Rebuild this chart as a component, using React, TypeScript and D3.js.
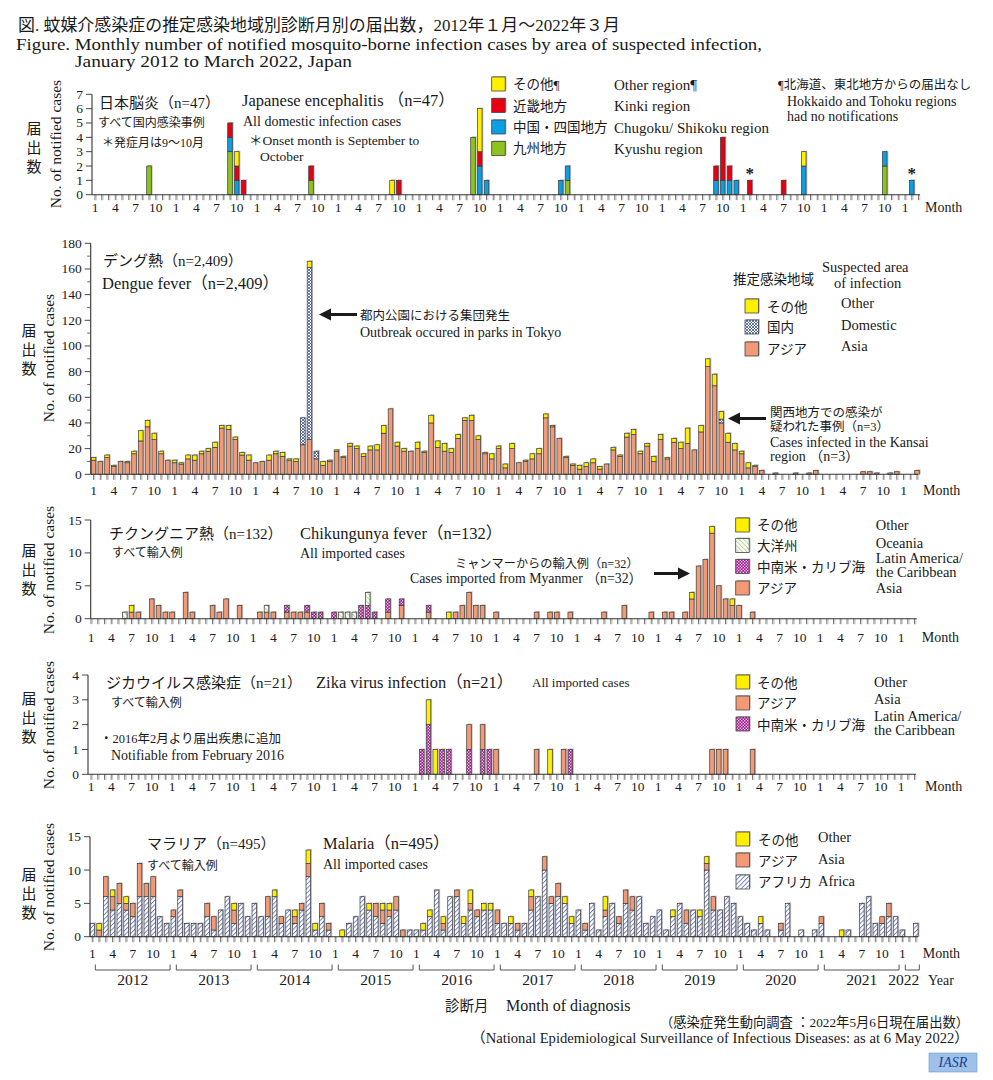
import React from "react";
import * as d3 from "d3";

const N = 123;
const STEP = 6.75;
const YEARS = [2012, 2013, 2014, 2015, 2016, 2017, 2018, 2019, 2020, 2021, 2022];
const MONTH_LABELS = [1, 4, 7, 10];

// ---------- Japanese encephalitis (by region) ----------
const jeKyushu = [
  [0,0,0,0,0,0,0,0,2,0,0,0],
  [0,0,0,0,0,0,0,0,3,0,0,0],
  [0,0,0,0,0,0,0,0,1,0,0,0],
  [0,0,0,0,0,0,0,0,0,0,0,0],
  [0,0,0,0,0,0,0,0,4,0,0,0],
  [0,0,0,0,0,0,0,0,0,0,1,0],
  [0,0,0,0,0,0,0,0,0,0,0,0],
  [0,0,0,0,0,0,0,0,0,0,0,0],
  [0,0,0,0,0,0,0,0,0,0,0,0],
  [0,0,0,0,0,0,0,0,0,2,0,0],
  [0,0,0],
].flat();
const jeChugoku = [
  [0,0,0,0,0,0,0,0,0,0,0,0],
  [0,0,0,0,0,0,0,0,1,1,0,0],
  [0,0,0,0,0,0,0,0,0,0,0,0],
  [0,0,0,0,0,0,0,0,0,0,0,0],
  [0,0,0,0,0,0,0,0,0,2,1,0],
  [0,0,0,0,0,0,0,0,0,1,1,0],
  [0,0,0,0,0,0,0,0,0,0,0,0],
  [0,0,0,0,0,0,0,0,1,1,1,1],
  [0,0,0,0,0,0,0,0,0,2,0,0],
  [0,0,0,0,0,0,0,0,0,1,0,0],
  [0,1,0],
].flat();
const jeKinki = [
  [0,0,0,0,0,0,0,0,0,0,0,0],
  [0,0,0,0,0,0,0,0,1,1,1,0],
  [0,0,0,0,0,0,0,0,1,0,0,0],
  [0,0,0,0,0,0,0,0,0,1,0,0],
  [0,0,0,0,0,0,0,0,0,1,0,0],
  [0,0,0,0,0,0,0,0,0,0,0,0],
  [0,0,0,0,0,0,0,0,0,0,0,0],
  [0,0,0,0,0,0,0,0,1,3,1,0],
  [0,1,0,0,0,0,1,0,0,0,0,0],
  [0,0,0,0,0,0,0,0,0,0,0,0],
  [0,0,0],
].flat();
const jeOther = [
  [0,0,0,0,0,0,0,0,0,0,0,0],
  [0,0,0,0,0,0,0,0,0,1,0,0],
  [0,0,0,0,0,0,0,0,0,0,0,0],
  [0,0,0,0,0,0,0,0,1,0,0,0],
  [0,0,0,0,0,0,0,0,0,3,0,0],
  [0,0,0,0,0,0,0,0,0,0,0,0],
  [0,0,0,0,0,0,0,0,0,0,0,0],
  [0,0,0,0,0,0,0,0,0,0,0,0],
  [0,0,0,0,0,0,0,0,0,1,0,0],
  [0,0,0,0,0,0,0,0,0,0,0,0],
  [0,0,0],
].flat();
const jeAsteriskMonths = [97, 121];

// ---------- Dengue ----------
const dengueAsia = [
  [11,10,13,6,10,9,16,26,37,27,16,11],
  [9,8,12,11,16,18,21,36,35,27,15,11],
  [9,10,11,16,14,11,10,23,27,12,7,10],
  [18,13,22,20,14,19,19,32,51,22,18,18],
  [20,17,40,21,18,17,28,42,42,27,16,12],
  [20,5,20,9,10,12,16,44,37,28,13,7],
  [4,6,9,4,8,19,14,29,31,16,22,10],
  [27,12,25,20,24,19,33,84,69,40,25,19],
  [16,5,6,3,0,1,0,0,1,0,1,3],
  [0,0,0,0,0,0,2,2,1,0,1,2],
  [0,0,3],
].flat();
const dengueDomestic = [
  [0,0,0,0,0,0,0,0,0,0,0,0],
  [0,0,0,0,0,0,0,0,0,0,0,0],
  [0,0,0,0,0,0,0,21,134,6,0,0],
  [0,0,0,0,0,0,0,0,0,0,0,0],
  [0,0,0,0,0,0,0,0,0,0,0,0],
  [0,0,0,0,0,0,0,0,0,0,0,0],
  [0,0,0,0,0,0,0,0,0,0,0,0],
  [0,0,0,0,0,0,0,0,0,3,0,0],
  [0,0,0,0,0,0,0,0,0,0,0,0],
  [0,0,0,0,0,0,0,0,0,0,0,0],
  [0,0,0],
].flat();
const dengueOther = [
  [2,0,2,1,0,1,2,8,5,5,2,0],
  [2,1,3,4,2,2,4,2,3,2,2,4],
  [0,0,4,2,3,1,2,0,5,0,3,1],
  [1,1,2,2,2,3,4,6,0,3,2,0],
  [5,1,6,5,6,3,3,2,4,3,1,4],
  [2,3,4,0,1,4,4,3,1,0,1,1],
  [3,3,3,2,0,2,1,3,4,2,2,4],
  [4,1,3,5,12,0,5,6,9,6,7,5],
  [2,4,1,0,0,0,0,0,0,0,0,0],
  [0,0,0,0,0,0,0,0,0,0,0,0],
  [0,0,0],
].flat();

// ---------- Chikungunya ----------
const chikAsia = [
  [0,0,0,0,0,0,1,1,0,3,2,1],
  [1,0,4,1,0,0,2,1,3,0,2,0],
  [0,1,1,1,0,1,1,1,1,0,0,0],
  [0,0,0,0,0,0,0,0,1,0,2,0],
  [0,0,1,0,0,0,1,2,4,2,2,0],
  [1,0,0,0,0,0,1,0,1,1,0,1],
  [0,0,0,0,1,0,0,2,0,0,0,1],
  [0,1,1,0,1,3,8,9,13,5,3,2],
  [2,0,1,0,0,0,0,0,0,0,0,0],
  [0,0,0,0,0,0,0,0,0,0,0,0],
  [0,0,0],
].flat();
const chikLatAm = [
  [0,0,0,0,0,0,0,0,0,0,0,0],
  [0,0,0,0,0,0,0,0,0,0,0,0],
  [0,0,0,0,0,1,0,0,1,1,1,0],
  [1,0,0,0,2,2,1,0,2,0,1,0],
  [0,0,1,0,0,0,0,0,0,0,0,0],
  [0,0,0,0,0,0,0,0,0,0,0,0],
  [0,0,0,0,0,0,0,0,0,0,0,0],
  [0,0,0,0,0,0,0,0,0,0,0,0],
  [0,0,0,0,0,0,0,0,0,0,0,0],
  [0,0,0,0,0,0,0,0,0,0,0,0],
  [0,0,0],
].flat();
const chikOceania = [
  [0,0,0,0,0,1,0,0,0,0,0,0],
  [0,0,0,0,0,0,0,0,0,0,0,0],
  [0,0,1,0,0,0,0,0,0,0,0,0],
  [0,1,1,1,0,2,0,0,0,0,0,0],
  [0,0,0,0,0,0,0,0,0,0,0,0],
  [0,0,0,0,0,0,0,0,0,0,0,0],
  [0,0,0,0,0,0,0,0,0,0,0,0],
  [0,0,0,0,0,0,0,0,0,0,0,0],
  [0,0,0,0,0,0,0,0,0,0,0,0],
  [0,0,0,0,0,0,0,0,0,0,0,0],
  [0,0,0],
].flat();
const chikOther = [
  [0,0,0,0,0,0,1,0,0,0,0,0],
  [0,0,0,0,0,0,0,0,0,0,0,0],
  [0,0,0,0,0,0,0,0,0,0,0,0],
  [0,0,0,0,0,0,0,0,0,0,0,0],
  [0,0,0,0,0,1,0,0,0,0,0,0],
  [0,0,0,0,0,0,0,0,0,0,0,0],
  [0,0,0,0,0,0,0,0,0,0,0,0],
  [0,0,0,0,0,1,0,0,1,0,0,1],
  [0,0,0,0,0,0,0,0,0,0,0,0],
  [0,0,0,0,0,0,0,0,0,0,0,0],
  [0,0,0],
].flat();

// ---------- Zika ----------
const zikaLatAm = [
  [0,0,0,0,0,0,0,0,0,0,0,0],
  [0,0,0,0,0,0,0,0,0,0,0,0],
  [0,0,0,0,0,0,0,0,0,0,0,0],
  [0,0,0,0,0,0,0,0,0,0,0,0],
  [0,1,2,0,1,1,0,0,1,0,1,1],
  [0,0,0,0,0,0,0,0,0,0,0,1],
  [0,0,0,0,0,0,0,0,0,0,0,0],
  [0,0,0,0,0,0,0,0,0,0,0,0],
  [0,0,0,0,0,0,0,0,0,0,0,0],
  [0,0,0,0,0,0,0,0,0,0,0,0],
  [0,0,0],
].flat();
const zikaAsia = [
  [0,0,0,0,0,0,0,0,0,0,0,0],
  [0,0,0,0,0,0,0,0,0,0,0,0],
  [0,0,0,0,0,0,0,0,0,0,0,0],
  [0,0,0,0,0,0,0,0,0,0,0,0],
  [0,0,0,0,0,0,0,0,1,0,1,0],
  [1,0,0,0,0,0,1,0,0,0,1,0],
  [0,0,0,0,0,0,0,0,0,0,0,0],
  [0,0,0,0,0,0,0,0,1,1,1,0],
  [0,0,1,0,0,0,0,0,0,0,0,0],
  [0,0,0,0,0,0,0,0,0,0,0,0],
  [0,0,0],
].flat();
const zikaOther = [
  [0,0,0,0,0,0,0,0,0,0,0,0],
  [0,0,0,0,0,0,0,0,0,0,0,0],
  [0,0,0,0,0,0,0,0,0,0,0,0],
  [0,0,0,0,0,0,0,0,0,0,0,0],
  [0,0,1,1,0,0,0,0,0,0,0,0],
  [0,0,0,0,0,0,0,0,1,0,0,0],
  [0,0,0,0,0,0,0,0,0,0,0,0],
  [0,0,0,0,0,0,0,0,0,0,0,0],
  [0,0,0,0,0,0,0,0,0,0,0,0],
  [0,0,0,0,0,0,0,0,0,0,0,0],
  [0,0,0],
].flat();

// ---------- Malaria ----------
const malAfrica = [
  [2,0,6,4,5,4,3,6,6,6,3,2],
  [3,6,2,2,2,3,1,4,6,2,5,3],
  [5,3,3,6,2,4,2,4,9,1,3,1],
  [0,0,2,3,6,4,3,2,3,4,0,1],
  [1,1,3,7,1,6,6,2,4,3,4,4],
  [2,2,2,1,2,4,6,10,5,6,5,2],
  [4,1,5,1,3,5,2,5,4,6,2,3],
  [4,1,3,5,2,4,3,10,4,4,6,5],
  [3,2,1,2,1,0,1,5,0,1,0,1],
  [2,0,0,0,1,0,5,6,2,2,3,3],
  [1,0,2],
].flat();
const malAsia = [
  [0,1,3,2,3,1,2,5,2,3,0,0],
  [1,1,0,0,0,2,2,0,0,2,0,0],
  [0,0,3,0,1,0,1,1,2,0,2,1],
  [0,0,0,0,0,0,2,2,1,2,1,0],
  [0,0,0,0,1,0,1,0,1,1,0,0],
  [2,0,0,1,0,2,0,2,1,2,0,0],
  [0,1,0,0,1,0,1,2,2,0,0,0],
  [0,0,0,0,2,0,0,1,2,0,0,0],
  [0,0,0,0,0,0,1,0,0,0,0,0],
  [1,0,0,0,0,0,0,0,0,1,2,0],
  [0,0,0],
].flat();
const malOther = [
  [0,1,0,1,0,1,0,0,0,0,0,0],
  [0,0,0,0,0,0,0,0,0,1,0,0],
  [0,0,0,1,0,0,1,0,2,1,0,0],
  [0,1,0,0,0,1,0,1,1,0,0,0],
  [0,1,1,0,1,0,0,1,2,0,1,1],
  [0,0,1,0,0,1,0,0,0,0,1,1],
  [0,0,0,0,2,0,0,0,0,0,0,0],
  [0,0,1,0,0,0,1,1,0,0,0,0],
  [0,0,0,1,0,0,0,0,0,0,0,0],
  [0,0,0,1,0,0,0,0,0,0,0,0],
  [0,0,0],
].flat();

const COL = {
  yellow: "#FFF000",
  red: "#E60012",
  blue: "#0A9FE3",
  green: "#8DC21F",
  asia: "#F29A76",
};
const FONT = "'Liberation Serif','Noto Sans CJK JP',serif";

type Seg = { key: string; values: number[]; fill: string };
type PanelCfg = {
  segs: Seg[];
  yMax: number;
  yTicks: number[];
  yMinor?: number[];
  yZero: number;
  yTopPx: number;
  axisX: number;
  c0: number;
  axisEnd: number;
  xLabelY: number;
  rotX: number;
  rotCY: number;
  kanjiX: number;
  kanjiY: number;
  monthX: number;
};

function T(props: any) {
  const { x, y, size = 14, anchor = "start", children, ...rest } = props;
  return (
    <text x={x} y={y} fontSize={size} textAnchor={anchor} fontFamily={FONT} fill="#1a1a1a" {...rest}>
      {children}
    </text>
  );
}

function Swatch({ x, y, fill }: { x: number; y: number; fill: string }) {
  return (
    <g>
      <rect x={x + 1.3} y={y - 1} width={13.5} height={14.5} fill="#bdbdbd" />
      <rect x={x} y={y} width={13.5} height={14} fill={fill} stroke="#444" strokeWidth={0.8} />
    </g>
  );
}

function Arrow({ x1, x2, y }: { x1: number; x2: number; y: number }) {
  const dir = x2 > x1 ? 1 : -1;
  const head = 12;
  return (
    <g>
      <line x1={x1} x2={x2 - dir * head} y1={y} y2={y} stroke="#1a1a1a" strokeWidth={3} />
      <polygon points={`${x2},${y} ${x2 - dir * head},${y - 6} ${x2 - dir * head},${y + 6}`} fill="#1a1a1a" />
    </g>
  );
}

function Panel({ cfg, children }: { cfg: PanelCfg; children?: any }) {
  const x = d3
    .scaleBand<number>()
    .domain(d3.range(N))
    .range([cfg.c0 - STEP / 2, cfg.c0 - STEP / 2 + N * STEP])
    .paddingInner(0.32)
    .paddingOuter(0.16);
  const y = d3.scaleLinear().domain([0, cfg.yMax]).range([cfg.yZero, cfg.yTopPx]);
  const keys = cfg.segs.map((s) => s.key);
  const rows = d3.range(N).map((i) => {
    const r: any = { i };
    cfg.segs.forEach((s) => (r[s.key] = s.values[i]));
    return r;
  });
  const stacked = d3.stack<any>().keys(keys)(rows);
  const totals = rows.map((r) => d3.sum(keys, (k) => r[k]));
  const bw = x.bandwidth();
  const cx = (i: number) => (x(i) as number) + bw / 2;
  return (
    <g>
      {totals.map((t, i) =>
        t > 0 ? (
          <rect key={"sh" + i} x={(x(i) as number) + 1.3} y={y(t) - 1} width={bw} height={y(0) - y(t) + 1} fill="#bdbdbd" />
        ) : null
      )}
      {stacked.map((layer, li) =>
        layer.map((d, i) =>
          d[1] > d[0] ? (
            <rect
              key={li + "-" + i}
              x={x(i)}
              y={y(d[1])}
              width={bw}
              height={y(d[0]) - y(d[1])}
              fill={cfg.segs[li].fill}
              stroke="#3a3a3a"
              strokeWidth={0.7}
            />
          ) : null
        )
      )}
      {d3.range(N).map((i) => (
        <g key={"xt" + i}>
          <line x1={cx(i) + 1.3} x2={cx(i) + 1.3} y1={cfg.yZero} y2={cfg.yZero + 5.5} stroke="#c4c4c4" strokeWidth={1} />
          <line x1={cx(i)} x2={cx(i)} y1={cfg.yZero} y2={cfg.yZero + 5.5} stroke="#555" strokeWidth={0.8} />
        </g>
      ))}
      <line x1={cfg.axisX} x2={cfg.axisEnd} y1={cfg.yZero} y2={cfg.yZero} stroke="#333" strokeWidth={1.1} />
      {d3.range(N)
        .filter((i) => MONTH_LABELS.includes((i % 12) + 1))
        .map((i) => (
          <T key={"xl" + i} x={cx(i)} y={cfg.xLabelY} size={13.5} anchor="middle">
            {(i % 12) + 1}
          </T>
        ))}
      <T x={cfg.monthX} y={cfg.xLabelY} size={14}>
        Month
      </T>
      <line x1={cfg.axisX} x2={cfg.axisX} y1={cfg.yZero} y2={y(cfg.yMax)} stroke="#333" strokeWidth={1.1} />
      {(cfg.yMinor || []).map((v) => (
        <line key={"ym" + v} x1={cfg.axisX - 3.5} x2={cfg.axisX} y1={y(v)} y2={y(v)} stroke="#444" strokeWidth={0.8} />
      ))}
      {cfg.yTicks.map((v) => (
        <g key={"yt" + v}>
          <line x1={cfg.axisX - 6} x2={cfg.axisX} y1={y(v)} y2={y(v)} stroke="#333" strokeWidth={0.9} />
          <T x={cfg.axisX - 9} y={y(v) + 4.5} size={13.5} anchor="end">
            {v}
          </T>
        </g>
      ))}
      <T x={cfg.rotX} y={cfg.rotCY} size={15.5} anchor="middle" transform={`rotate(-90 ${cfg.rotX} ${cfg.rotCY})`}>
        No. of notified cases
      </T>
      {["届", "出", "数"].map((c, k) => (
        <T key={c} x={cfg.kanjiX} y={cfg.kanjiY + k * 19} size={15} anchor="middle">
          {c}
        </T>
      ))}
      {children ? children(x, y, totals, cx) : null}
    </g>
  );
}

export default function App() {
  const p1: PanelCfg = {
    segs: [
      { key: "kyushu", values: jeKyushu, fill: COL.green },
      { key: "chugoku", values: jeChugoku, fill: COL.blue },
      { key: "kinki", values: jeKinki, fill: COL.red },
      { key: "other", values: jeOther, fill: COL.yellow },
    ],
    yMax: 7,
    yTicks: [0, 1, 2, 3, 4, 5, 6, 7],
    yZero: 194.7,
    yTopPx: 94.3,
    axisX: 92,
    c0: 95,
    axisEnd: 920,
    xLabelY: 212,
    rotX: 61,
    rotCY: 144,
    kanjiX: 34,
    kanjiY: 134,
    monthX: 925,
  };
  const p2: PanelCfg = {
    segs: [
      { key: "asia", values: dengueAsia, fill: COL.asia },
      { key: "dom", values: dengueDomestic, fill: "url(#pDom)" },
      { key: "other", values: dengueOther, fill: COL.yellow },
    ],
    yMax: 180,
    yTicks: [0, 20, 40, 60, 80, 100, 120, 140, 160, 180],
    yMinor: [10, 30, 50, 70, 90, 110, 130, 150, 170],
    yZero: 474.3,
    yTopPx: 243.3,
    axisX: 90.7,
    c0: 93.5,
    axisEnd: 918,
    xLabelY: 495,
    rotX: 54,
    rotCY: 358,
    kanjiX: 29,
    kanjiY: 336,
    monthX: 923,
  };
  const p3: PanelCfg = {
    segs: [
      { key: "asia", values: chikAsia, fill: COL.asia },
      { key: "la", values: chikLatAm, fill: "url(#pLA)" },
      { key: "oce", values: chikOceania, fill: "url(#pOce)" },
      { key: "other", values: chikOther, fill: COL.yellow },
    ],
    yMax: 15,
    yTicks: [0, 5, 10, 15],
    yZero: 618.7,
    yTopPx: 520,
    axisX: 90.7,
    c0: 91,
    axisEnd: 916.7,
    xLabelY: 641.7,
    rotX: 54,
    rotCY: 570,
    kanjiX: 29,
    kanjiY: 556,
    monthX: 921.7,
  };
  const p4: PanelCfg = {
    segs: [
      { key: "la", values: zikaLatAm, fill: "url(#pLA)" },
      { key: "asia", values: zikaAsia, fill: COL.asia },
      { key: "other", values: zikaOther, fill: COL.yellow },
    ],
    yMax: 4,
    yTicks: [0, 1, 2, 3, 4],
    yZero: 774.3,
    yTopPx: 675,
    axisX: 88,
    c0: 91,
    axisEnd: 916,
    xLabelY: 790.7,
    rotX: 54,
    rotCY: 725,
    kanjiX: 29,
    kanjiY: 704,
    monthX: 925,
  };
  const p5: PanelCfg = {
    segs: [
      { key: "afr", values: malAfrica, fill: "url(#pAfr)" },
      { key: "asia", values: malAsia, fill: COL.asia },
      { key: "other", values: malOther, fill: COL.yellow },
    ],
    yMax: 15,
    yTicks: [0, 5, 10, 15],
    yZero: 936.7,
    yTopPx: 836.7,
    axisX: 90,
    c0: 92.3,
    axisEnd: 918,
    xLabelY: 957.7,
    rotX: 54,
    rotCY: 887,
    kanjiX: 29,
    kanjiY: 880,
    monthX: 922.7,
  };

  return (
    <svg width={993} height={1080} style={{ position: "absolute", left: 0, top: 0 }} xmlns="http://www.w3.org/2000/svg">
      <defs>
        <pattern id="pDom" width="3" height="3" patternUnits="userSpaceOnUse">
          <rect width="3" height="3" fill="#fff" />
          <path d="M0,0 L3,3 M3,0 L0,3" stroke="#2d4d9e" strokeWidth="0.75" />
        </pattern>
        <pattern id="pAfr" width="3.2" height="3.2" patternUnits="userSpaceOnUse" patternTransform="rotate(45)">
          <rect width="3.2" height="3.2" fill="#fff" />
          <line x1="0.5" y1="0" x2="0.5" y2="3.2" stroke="#5367c2" strokeWidth="0.8" />
        </pattern>
        <pattern id="pOce" width="3.2" height="3.2" patternUnits="userSpaceOnUse" patternTransform="rotate(-45)">
          <rect width="3.2" height="3.2" fill="#fff" />
          <line x1="0.5" y1="0" x2="0.5" y2="3.2" stroke="#a3cf78" strokeWidth="0.8" />
        </pattern>
        <pattern id="pLA" width="3" height="3" patternUnits="userSpaceOnUse">
          <rect width="3" height="3" fill="#a2188e" />
          <rect x="0.15" y="0.15" width="1.2" height="1.2" fill="#fff" />
          <rect x="1.65" y="1.65" width="1.2" height="1.2" fill="#fff" />
        </pattern>
      </defs>
      <rect x={0} y={0} width={993} height={1080} fill="#fff" />

      {/* Title */}
      <T x={18} y={31} size={16.5} textLength={602} lengthAdjust="spacingAndGlyphs">
        図. 蚊媒介感染症の推定感染地域別診断月別の届出数，2012年１月～2022年３月
      </T>
      <T x={16} y={50} size={17} textLength={746} lengthAdjust="spacingAndGlyphs">
        Figure. Monthly number of notified mosquito-borne infection cases by area of suspected infection,
      </T>
      <T x={75} y={67} size={17} textLength={277} lengthAdjust="spacingAndGlyphs">
        January 2012 to March 2022, Japan
      </T>

      {/* Panel 1: Japanese encephalitis */}
      <Panel cfg={p1}>
        {(x: any, y: any, totals: number[], cx: any) =>
          jeAsteriskMonths.map((m) => (
            <T key={"ast" + m} x={cx(m)} y={y(totals[m]) - 1} size={17} anchor="middle" fontWeight="bold">
              *
            </T>
          ))
        }
      </Panel>
      <T x={99} y={108} size={15}>日本脳炎（n=47）</T>
      <T x={242} y={106} size={16.5}>Japanese encephalitis （n=47）</T>
      <T x={98} y={127} size={12}>すべて国内感染事例</T>
      <T x={243} y={126} size={14}>All domestic infection cases</T>
      <T x={102} y={146.5} size={12}>＊発症月は9～10月</T>
      <T x={249} y={145} size={13.5}>＊Onset month is September to</T>
      <T x={260} y={160.5} size={13.5}>October</T>
      <Swatch x={491.7} y={77} fill={COL.yellow} />
      <Swatch x={491.7} y={98.5} fill={COL.red} />
      <Swatch x={491.7} y={120} fill={COL.blue} />
      <Swatch x={491.7} y={141.5} fill={COL.green} />
      <T x={513} y={89} size={13.5}>その他¶</T>
      <T x={513} y={110.5} size={13.5}>近畿地方</T>
      <T x={513} y={132} size={13.5}>中国・四国地方</T>
      <T x={513} y={153} size={13.5}>九州地方</T>
      <T x={614} y={89.5} size={15}>Other region¶</T>
      <T x={614} y={111} size={15}>Kinki region</T>
      <T x={614} y={132.5} size={15}>Chugoku/ Shikoku region</T>
      <T x={614} y={153.5} size={15}>Kyushu region</T>
      <T x={778} y={88.5} size={12.5}>¶北海道、東北地方からの届出なし</T>
      <T x={787} y={106} size={14}>Hokkaido and Tohoku regions</T>
      <T x={787} y={120.5} size={14}>had no notifications</T>

      {/* Panel 2: Dengue */}
      <Panel cfg={p2} />
      <T x={103} y={266} size={15}>デング熱（n=2,409）</T>
      <T x={102} y={288.5} size={16.5}>Dengue fever（n=2,409）</T>
      <Arrow x1={357} x2={319} y={314.5} />
      <T x={360} y={320} size={12.5}>都内公園における集団発生</T>
      <T x={360} y={336.5} size={14}>Outbreak occured in parks in Tokyo</T>
      <T x={733} y={284} size={13.5}>推定感染地域</T>
      <T x={822} y={272} size={14.5}>Suspected area</T>
      <T x={834} y={287.5} size={14.5}>of infection</T>
      <Swatch x={745} y={299} fill={COL.yellow} />
      <Swatch x={745} y={320} fill="url(#pDom)" />
      <Swatch x={745} y={342} fill={COL.asia} />
      <T x={767} y={311.5} size={13.5}>その他</T>
      <T x={767} y={332} size={13.5}>国内</T>
      <T x={767} y={353.5} size={13.5}>アジア</T>
      <T x={841} y={307.5} size={14.5}>Other</T>
      <T x={841} y={329.5} size={14.5}>Domestic</T>
      <T x={841} y={350.5} size={14.5}>Asia</T>
      <Arrow x1={766} x2={728} y={418.5} />
      <T x={770} y={417} size={12.5}>関西地方での感染が</T>
      <T x={770} y={431} size={12.5}>疑われた事例（n=3）</T>
      <T x={770} y={446.5} size={14}>Cases infected in the Kansai</T>
      <T x={770} y={461} size={14}>region （n=3）</T>

      {/* Panel 3: Chikungunya */}
      <Panel cfg={p3} />
      <T x={109} y={538.5} size={15}>チクングニア熱（n=132）</T>
      <T x={300} y={538.5} size={16.5}>Chikungunya fever（n=132）</T>
      <T x={112} y={557} size={12}>すべて輸入例</T>
      <T x={300} y={558} size={14}>All imported cases</T>
      <T x={455} y={568} size={12.2}>ミャンマーからの輸入例（n=32）</T>
      <T x={410} y={583} size={13.8}>Cases imported from Myanmer （n=32）</T>
      <Arrow x1={654} x2={690} y={573.5} />
      <Swatch x={735.7} y={518} fill={COL.yellow} />
      <Swatch x={735.7} y={538.5} fill="url(#pOce)" />
      <Swatch x={735.7} y={559.5} fill="url(#pLA)" />
      <Swatch x={735.7} y={581} fill={COL.asia} />
      <T x={757} y={530} size={13.5}>その他</T>
      <T x={757} y={551} size={13.5}>大洋州</T>
      <T x={757} y={572} size={13.5}>中南米・カリブ海</T>
      <T x={757} y={593} size={13.5}>アジア</T>
      <T x={875.7} y={530} size={14.5}>Other</T>
      <T x={875.7} y={547.5} size={14.5}>Oceania</T>
      <T x={875.7} y={562.5} size={14.5}>Latin America/</T>
      <T x={875.7} y={577} size={14.5}>the Caribbean</T>
      <T x={875.7} y={592.5} size={14.5}>Asia</T>

      {/* Panel 4: Zika */}
      <Panel cfg={p4} />
      <T x={106} y={688} size={15}>ジカウイルス感染症（n=21）</T>
      <T x={316} y={688} size={16.5}>Zika virus infection（n=21）</T>
      <T x={532} y={687} size={13}>All imported cases</T>
      <T x={111} y={707} size={12}>すべて輸入例</T>
      <T x={100} y={743} size={12.5}>・2016年2月より届出疾患に追加</T>
      <T x={111} y={760} size={14}>Notifiable from February 2016</T>
      <Swatch x={736} y={675} fill={COL.yellow} />
      <Swatch x={736} y={696} fill={COL.asia} />
      <Swatch x={736} y={717} fill="url(#pLA)" />
      <T x={757} y={687.5} size={13.5}>その他</T>
      <T x={757} y={708} size={13.5}>アジア</T>
      <T x={757} y={729.5} size={13.5}>中南米・カリブ海</T>
      <T x={874} y={687} size={14.5}>Other</T>
      <T x={874} y={704} size={14.5}>Asia</T>
      <T x={874} y={720.5} size={14.5}>Latin America/</T>
      <T x={874} y={735} size={14.5}>the Caribbean</T>

      {/* Panel 5: Malaria */}
      <Panel cfg={p5}>
        {(x: any, y: any, totals: number[], cx: any) =>
          YEARS.map((yr, k) => {
            const s = k * 12;
            const e = Math.min(s + 11, N - 1);
            const xa = cx(s) + 3;
            const xb = cx(e) + 3.5;
            const last = k === YEARS.length - 1;
            return (
              <g key={"yr" + yr}>
                <path d={`M${xa},964.5 L${xa},970 L${xb},970 L${xb},964.5`} fill="none" stroke="#555" strokeWidth={1} />
                <T x={last ? xb : (xa + xb) / 2} y={984.5} size={15.5} anchor={last ? "end" : "middle"}>
                  {yr}
                </T>
              </g>
            );
          })
        }
      </Panel>
      <T x={928} y={985} size={14}>Year</T>
      <T x={147} y={849} size={15}>マラリア（n=495）</T>
      <T x={323} y={849} size={16.5}>Malaria（n=495）</T>
      <T x={147} y={870} size={12}>すべて輸入例</T>
      <T x={323} y={868.5} size={14}>All imported cases</T>
      <Swatch x={736} y={832} fill={COL.yellow} />
      <Swatch x={736} y={853} fill={COL.asia} />
      <Swatch x={736} y={875} fill="url(#pAfr)" />
      <T x={758} y={844.5} size={13.5}>その他</T>
      <T x={758} y={865.5} size={13.5}>アジア</T>
      <T x={758} y={887} size={13.5}>アフリカ</T>
      <T x={818} y={842} size={14.5}>Other</T>
      <T x={818} y={864} size={14.5}>Asia</T>
      <T x={818} y={886} size={14.5}>Africa</T>

      {/* Footer */}
      <T x={445} y={1010.5} size={14.5}>診断月</T>
      <T x={506} y={1010.5} size={16}>Month of diagnosis</T>
      <T x={660} y={1026.5} size={13.5} textLength={309} lengthAdjust="spacingAndGlyphs">（感染症発生動向調査 ：2022年5月6日現在届出数）</T>
      <T x={471} y={1043} size={14.5} textLength={498} lengthAdjust="spacingAndGlyphs">（National Epidemiological Surveillance of Infectious Diseases: as at 6 May 2022）</T>
      <rect x={929} y={1053} width={48} height={19} fill="#9dc1e8" stroke="#6f98cc" strokeWidth={0.6} />
      <T x={953} y={1067} size={14} anchor="middle" fontStyle="italic" fill="#1d3f8f">IASR</T>
    </svg>
  );
}
